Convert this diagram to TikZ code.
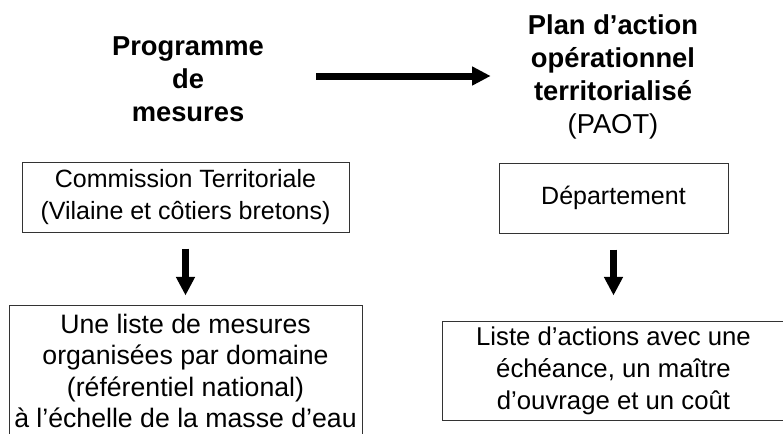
\documentclass[tikz,border=0pt]{standalone}
\usepackage{fontspec}
\setmainfont{Liberation Sans}
\usetikzlibrary{arrows.meta}
\usetikzlibrary{positioning}

\tikzset{
	titre/.style={align=center,inner sep=0pt,font=\bfseries\fontsize{20.5pt}{24.75pt}\selectfont},
	cadre/.style={draw=black!80,line width=0.75pt,align=center,inner sep=0pt},
	fleche/.style={line width=5.25pt,-{Triangle[length=14pt,width=13.5pt]}}
}

\begin{document}
\begin{tikzpicture}[x=0.75pt,y=-0.75pt]
	\useasboundingbox (0,0) rectangle (783,433);
	% Place nodes
	\node [titre] (prog) at (188,79) {Programme\\de\\mesures};
	\node [titre] (paot) at (613,77) {Plan d’action\\opérationnel\\territorialisé\\{\mdseries (PAOT)}};
	\coordinate (fy) at (0,76);

	\node [cadre,minimum width=245.25pt,minimum height=52.5pt,font=\fontsize{18.75pt}{23.5pt}\selectfont] (comm) at (185.5,197) {Commission Territoriale\\(Vilaine et côtiers bretons)};
	\node [cadre,minimum width=171.75pt,minimum height=52.5pt,font=\fontsize{18.75pt}{24pt}\selectfont] (dept) at (613.5,198) {Département};

	\node [cadre,below=54pt of comm,minimum width=264.75pt,minimum height=99pt,font=\fontsize{20pt}{23.5pt}\selectfont] (listmes) {Une liste de mesures\\organisées par domaine\\(référentiel national)\\à l’échelle de la masse d’eau};
	\node [cadre,below=65.25pt of dept,minimum width=256.5pt,minimum height=74.25pt,font=\fontsize{19.3pt}{24pt}\selectfont] (listact) {Liste d’actions avec une\\échéance, un maître\\d’ouvrage et un coût};

	% Arrows
	\draw [fleche,shorten <=39pt,shorten >=27.75pt] (prog.east |- fy) -- (paot.west |- fy);
	\draw [fleche,shorten <=12pt,shorten >=6.75pt] (comm) -- (listmes);
	\draw [fleche,shorten <=12pt,shorten >=18.75pt] (dept) -- (listact);
\end{tikzpicture}
\end{document}
